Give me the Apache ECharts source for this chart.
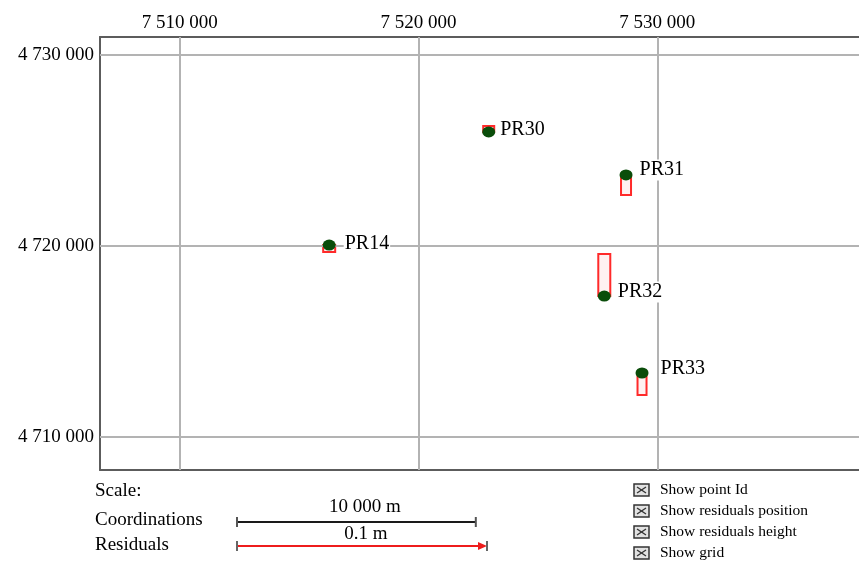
<!DOCTYPE html>
<html>
<head>
<meta charset="utf-8">
<title>Control points and residuals</title>
<script src="https://cdn.jsdelivr.net/npm/echarts@6/dist/echarts.min.js"></script>
<style>
  html, body { margin: 0; padding: 0; background: #fff; }
  #main { width: 859px; height: 561px; }
</style>
</head>
<body>
<div id="main"></div>
<script>
// Control points (easting / northing, metres)
const pointIds  = ['PR14', 'PR30', 'PR31', 'PR32', 'PR33'];
const eastings  = [7516260, 7522940, 7528690, 7527780, 7529360];
const northings = [4720050, 4725970, 4723720, 4717380, 4713350];
// Residuals (metres): horizontal position residual and height residual
const residualPos    = [0.0024, 0.0022, 0.0020, 0.0024, 0.0018];
const residualHeight = [-0.0028, 0.0024, -0.0080, 0.0168, -0.0088];

// Axis ticks and extents
const xTicks = [7510000, 7520000, 7530000];
const yTicks = [4710000, 4720000, 4730000];
const xRange = [7506663, 7538446];
const yRange = [4708272, 4730942];

// Scale legend
const coordScaleMetres = 10000;
const residualScaleMetres = 0.1;
const scaleLabels = ['10 000 m', '0.1 m'];
const scaleRows = ['Scale:', 'Coordinations', 'Residuals'];
const optionsList = ['Show point Id', 'Show residuals position', 'Show residuals height', 'Show grid'];

const FONT = 'Liberation Serif';
const RES_PX_PER_M = 2500;          // residual drawing scale: 0.1 m -> 250 px
const fmt = v => String(Math.round(v)).replace(/\B(?=(\d{3})+(?!\d))/g, ' ');
const FRAME = { show: true, onZero: false, lineStyle: { color: '#5c5c5c', width: 2 } };

// label placement per point [distance, dy]
const labelPlace = { PR14: [8, -1], PR30: [4, -2], PR31: [6, -5], PR32: [6, -4], PR33: [11, -4] };

const points = pointIds.map((id, i) => ({
  value: [eastings[i], northings[i]],
  name: id,
  label: { distance: labelPlace[id][0], offset: [0, labelPlace[id][1]] }
}));
const residuals = pointIds.map((id, i) => [eastings[i], northings[i], residualPos[i], residualHeight[i]]);

const chart = echarts.init(document.getElementById('main'));

const option = {
  animation: false,
  backgroundColor: '#fff',
  grid: { left: 100, right: -3, top: 37, bottom: 91 },
  xAxis: [
    {
      type: 'value', position: 'top', min: xRange[0], max: xRange[1],
      axisLine: FRAME, axisTick: { show: false }, splitLine: { show: false },
      axisLabel: { customValues: xTicks, formatter: fmt, fontFamily: FONT, fontSize: 19, color: '#000', margin: 4 }
    },
    {
      // bottom frame edge
      type: 'value', position: 'bottom', min: xRange[0], max: xRange[1],
      axisLine: FRAME, axisTick: { show: false }, splitLine: { show: false }, axisLabel: { show: false }
    }
  ],
  yAxis: {
    type: 'value', min: yRange[0], max: yRange[1],
    axisLine: FRAME, axisTick: { show: false }, splitLine: { show: false },
    axisLabel: { customValues: yTicks, formatter: fmt, fontFamily: FONT, fontSize: 19, color: '#000', margin: 6 }
  },
  series: [
    {
      // coordinate grid
      type: 'line', z: 1, silent: true, showSymbol: false,
      data: [[xRange[0], yRange[0]]],
      markLine: {
        silent: true, symbol: 'none', animation: false,
        label: { show: false },
        lineStyle: { color: '#b3b3b3', width: 2, type: 'solid' },
        data: xTicks.map(v => ({ xAxis: v })).concat(yTicks.map(v => ({ yAxis: v })))
      }
    },
    {
      // residual boxes
      type: 'custom', z: 3, silent: true,
      data: residuals,
      renderItem: (params, api) => {
        const p = api.coord([api.value(0), api.value(1)]);
        const hw = api.value(2) * RES_PX_PER_M;
        const h = api.value(3) * RES_PX_PER_M;
        return {
          type: 'rect',
          shape: { x: p[0] - hw, y: h > 0 ? p[1] - h : p[1], width: 2 * hw, height: Math.abs(h) },
          style: { fill: 'rgba(255,215,215,0.35)', stroke: '#ff2a2a', lineWidth: 2 }
        };
      }
    },
    {
      type: 'scatter', z: 5, silent: true,
      symbol: 'circle', symbolSize: [13, 11],
      itemStyle: { color: '#0a4d0a', opacity: 1 },
      data: points,
      label: {
        show: true, position: 'right', formatter: '{b}',
        fontFamily: FONT, fontSize: 20, color: '#000',
        backgroundColor: '#fff', padding: [1, 1, 0, 1]
      }
    }
  ]
};
chart.setOption(option);

// Legend block under the map: scale bars and option boxes
const x0 = chart.convertToPixel({ gridIndex: 0 }, [xTicks[0], yTicks[0]])[0];
const x1 = chart.convertToPixel({ gridIndex: 0 }, [xTicks[0] + coordScaleMetres, yTicks[0]])[0];
const coordLen = x1 - x0;
const resLen = residualScaleMetres * RES_PX_PER_M;
const barX = 237, coordY = 522, resY = 546;

const textStyle = (extra) => Object.assign({ fontFamily: FONT, fill: '#000' }, extra);
const g = [];
scaleRows.forEach((t, i) => {
  g.push({ type: 'text', x: 95, y: [491, 520, 545][i], style: textStyle({ text: t, fontSize: 19, verticalAlign: 'middle' }) });
});
// coordinate bar
g.push({ type: 'line', shape: { x1: barX, y1: coordY, x2: barX + coordLen, y2: coordY }, style: { stroke: '#1a1a1a', lineWidth: 2 } });
[barX, barX + coordLen].forEach(x => g.push({ type: 'line', shape: { x1: x, y1: coordY - 5, x2: x, y2: coordY + 5 }, style: { stroke: '#555', lineWidth: 2 } }));
g.push({ type: 'text', x: 365, y: 507, style: textStyle({ text: scaleLabels[0], fontSize: 19, align: 'center', verticalAlign: 'middle' }) });
// residual bar with arrow
g.push({ type: 'line', shape: { x1: barX, y1: resY, x2: barX + resLen - 6, y2: resY }, style: { stroke: '#ee1c1c', lineWidth: 2 } });
g.push({ type: 'polygon', shape: { points: [[barX + resLen - 9, resY - 4], [barX + resLen, resY], [barX + resLen - 9, resY + 4]] }, style: { fill: '#ee1c1c' } });
[barX, barX + resLen].forEach(x => g.push({ type: 'line', shape: { x1: x, y1: resY - 5, x2: x, y2: resY + 5 }, style: { stroke: '#666', lineWidth: 2 } }));
g.push({ type: 'text', x: 366, y: 534, style: textStyle({ text: scaleLabels[1], fontSize: 19, align: 'center', verticalAlign: 'middle' }) });
// option check boxes
[490, 511, 532, 553].forEach((cy, i) => {
  const bx = 634, bw = 15, bh = 12, by = cy - 6;
  g.push({ type: 'rect', shape: { x: bx, y: by, width: bw, height: bh }, style: { fill: '#e2e2e2', stroke: '#333', lineWidth: 1.5 } });
  g.push({ type: 'line', shape: { x1: bx + 3, y1: by + 3, x2: bx + bw - 3, y2: by + bh - 3 }, style: { stroke: '#333', lineWidth: 1.3 } });
  g.push({ type: 'line', shape: { x1: bx + bw - 3, y1: by + 3, x2: bx + 3, y2: by + bh - 3 }, style: { stroke: '#333', lineWidth: 1.3 } });
  g.push({ type: 'text', x: 660, y: cy, style: textStyle({ text: optionsList[i], fontSize: 15.5, verticalAlign: 'middle' }) });
});
chart.setOption({ graphic: g });
</script>
</body>
</html>
